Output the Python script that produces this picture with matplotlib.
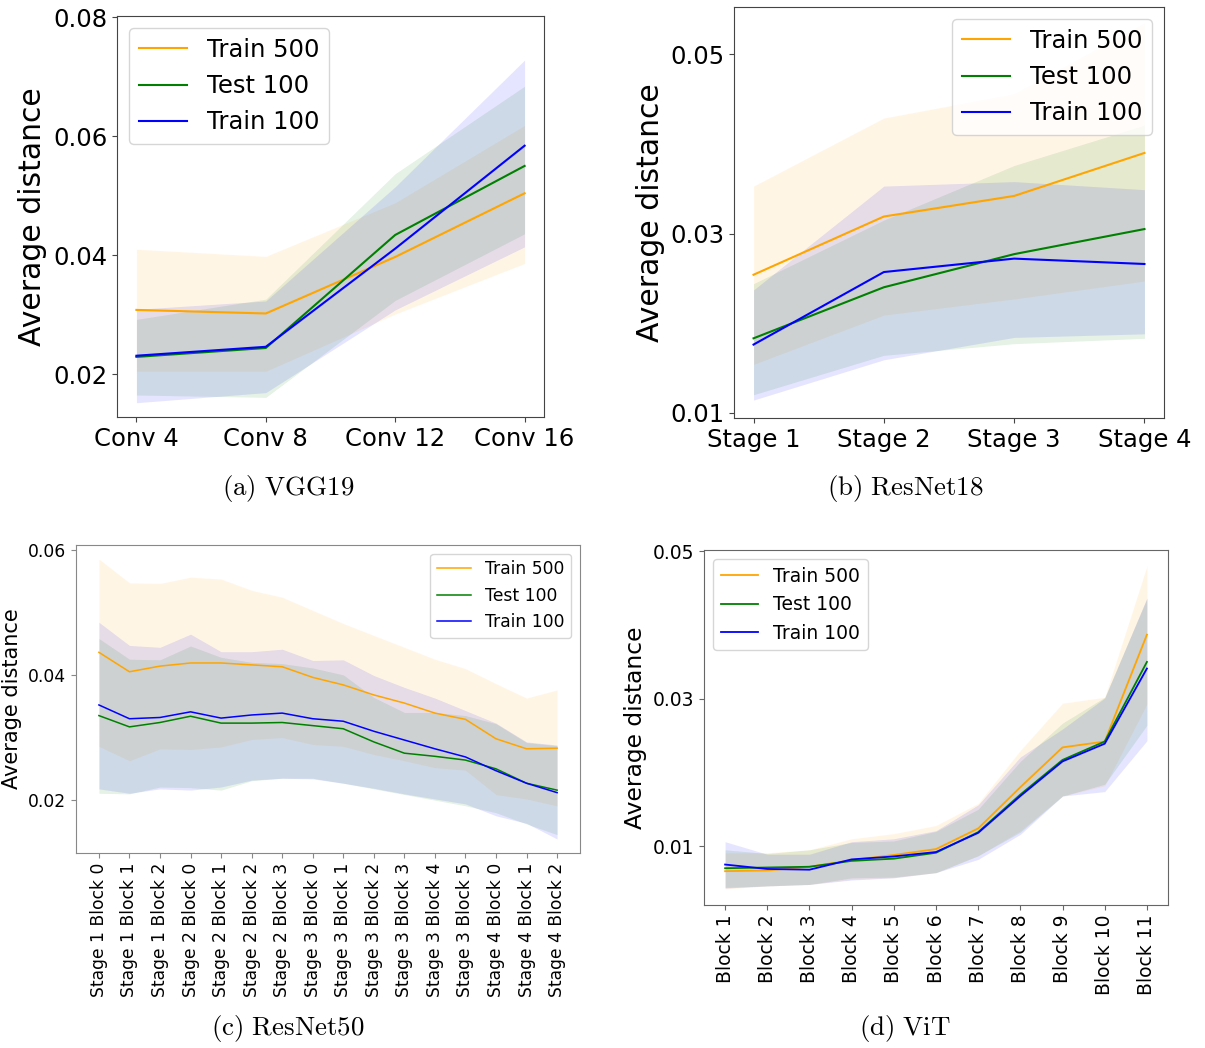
import numpy as np
import matplotlib
matplotlib.use("Agg")
import matplotlib.pyplot as plt

plt.rcParams['mathtext.fontset'] = 'cm'

series_names = ['Train 500', 'Test 100', 'Train 100']
series_colors = ['orange', 'green', 'blue']

# (a) VGG19
vgg_layers = ['Conv 4', 'Conv 8', 'Conv 12', 'Conv 16']
vgg_mean = [[0.0308, 0.0302, 0.0397, 0.0504],
            [0.0229, 0.0244, 0.0434, 0.0550],
            [0.0231, 0.0246, 0.0411, 0.0584]]
vgg_upper = [[0.0410, 0.0398, 0.0488, 0.0618],
             [0.0292, 0.0326, 0.0537, 0.0684],
             [0.0309, 0.0323, 0.0515, 0.0728]]
vgg_lower = [[0.0205, 0.0205, 0.0301, 0.0386],
             [0.0165, 0.0161, 0.0324, 0.0436],
             [0.0152, 0.0169, 0.0308, 0.0414]]

# (b) ResNet18
r18_layers = ['Stage 1', 'Stage 2', 'Stage 3', 'Stage 4']
r18_mean = [[0.0254, 0.0319, 0.0342, 0.0390],
            [0.0183, 0.0240, 0.0277, 0.0305],
            [0.0176, 0.0257, 0.0272, 0.0266]]
r18_upper = [[0.0353, 0.0429, 0.0456, 0.0535],
             [0.0244, 0.0315, 0.0376, 0.0421],
             [0.0237, 0.0353, 0.0358, 0.0349]]
r18_lower = [[0.0154, 0.0209, 0.0227, 0.0247],
             [0.0120, 0.0164, 0.0177, 0.0183],
             [0.0114, 0.0159, 0.0184, 0.0188]]

# (c) ResNet50
r50_layers = ['Stage 1 Block 0', 'Stage 1 Block 1', 'Stage 1 Block 2',
              'Stage 2 Block 0', 'Stage 2 Block 1', 'Stage 2 Block 2', 'Stage 2 Block 3',
              'Stage 3 Block 0', 'Stage 3 Block 1', 'Stage 3 Block 2', 'Stage 3 Block 3',
              'Stage 3 Block 4', 'Stage 3 Block 5',
              'Stage 4 Block 0', 'Stage 4 Block 1', 'Stage 4 Block 2']
r50_mean = [[0.0436, 0.0405, 0.0414, 0.0419, 0.0419, 0.0416, 0.0413, 0.0396,
             0.0384, 0.0368, 0.0355, 0.0339, 0.0329, 0.0298, 0.0282, 0.0283],
            [0.0335, 0.0317, 0.0324, 0.0334, 0.0323, 0.0323, 0.0324, 0.0319,
             0.0314, 0.0293, 0.0275, 0.0270, 0.0264, 0.0250, 0.0227, 0.0216],
            [0.0352, 0.0330, 0.0332, 0.0341, 0.0331, 0.0336, 0.0339, 0.0330,
             0.0326, 0.0310, 0.0296, 0.0282, 0.0269, 0.0247, 0.0227, 0.0212]]
r50_upper = [[0.0585, 0.0547, 0.0546, 0.0556, 0.0553, 0.0535, 0.0524, 0.0503,
              0.0482, 0.0463, 0.0444, 0.0425, 0.0410, 0.0386, 0.0363, 0.0376],
             [0.0458, 0.0425, 0.0424, 0.0446, 0.0428, 0.0420, 0.0418, 0.0411,
              0.0400, 0.0364, 0.0340, 0.0340, 0.0335, 0.0322, 0.0292, 0.0287],
             [0.0484, 0.0447, 0.0444, 0.0465, 0.0437, 0.0437, 0.0441, 0.0423,
              0.0424, 0.0399, 0.0380, 0.0363, 0.0343, 0.0323, 0.0293, 0.0288]]
r50_lower = [[0.0286, 0.0263, 0.0282, 0.0281, 0.0285, 0.0297, 0.0300, 0.0289,
              0.0286, 0.0273, 0.0263, 0.0252, 0.0248, 0.0209, 0.0202, 0.0191],
             [0.0211, 0.0210, 0.0221, 0.0220, 0.0216, 0.0231, 0.0235, 0.0235,
              0.0227, 0.0218, 0.0209, 0.0200, 0.0191, 0.0180, 0.0162, 0.0145],
             [0.0218, 0.0211, 0.0218, 0.0216, 0.0221, 0.0232, 0.0235, 0.0234,
              0.0227, 0.0219, 0.0210, 0.0202, 0.0194, 0.0175, 0.0163, 0.0138]]

# (d) ViT
vit_layers = ['Block 1', 'Block 2', 'Block 3', 'Block 4', 'Block 5', 'Block 6',
              'Block 7', 'Block 8', 'Block 9', 'Block 10', 'Block 11']
vit_mean = [[0.0066, 0.0067, 0.0072, 0.0081, 0.0088, 0.0096, 0.0124, 0.0180, 0.0234, 0.0242, 0.0387],
            [0.0070, 0.0071, 0.0072, 0.0080, 0.0083, 0.0091, 0.0119, 0.0170, 0.0217, 0.0242, 0.0350],
            [0.0075, 0.0069, 0.0068, 0.0082, 0.0086, 0.0092, 0.0118, 0.0168, 0.0215, 0.0239, 0.0341]]
vit_upper = [[0.0091, 0.0091, 0.0095, 0.0110, 0.0117, 0.0128, 0.0158, 0.0230, 0.0294, 0.0302, 0.0480],
             [0.0095, 0.0090, 0.0095, 0.0105, 0.0107, 0.0120, 0.0150, 0.0215, 0.0267, 0.0302, 0.0436],
             [0.0106, 0.0089, 0.0089, 0.0106, 0.0110, 0.0121, 0.0156, 0.0221, 0.0259, 0.0301, 0.0437]]
vit_lower = [[0.0042, 0.0046, 0.0048, 0.0055, 0.0057, 0.0064, 0.0087, 0.0121, 0.0168, 0.0182, 0.0293],
             [0.0044, 0.0046, 0.0048, 0.0057, 0.0058, 0.0064, 0.0087, 0.0119, 0.0168, 0.0184, 0.0264],
             [0.0043, 0.0046, 0.0048, 0.0054, 0.0057, 0.0064, 0.0082, 0.0116, 0.0168, 0.0174, 0.0243]]

W, H = 1205, 1048
fig = plt.figure(figsize=(W / 100, H / 100), dpi=100)


def box(l, t, r, b):
    return [l / W, 1 - b / H, (r - l) / W, (b - t) / H]


def panel(rect, layers, mean, upper, lower, fs, lab_fs, lw, rot, loc, spine, caption, cap_xy):
    ax = fig.add_axes(box(*rect))
    x = np.arange(len(layers))
    for i in range(3):
        ax.plot(x, mean[i], color=series_colors[i], lw=lw, label=series_names[i])
        ax.fill_between(x, lower[i], upper[i], color=series_colors[i], alpha=0.1, lw=0)
    ax.set_xticks(x)
    ax.set_xticklabels(layers, rotation=rot, fontsize=fs)
    ax.tick_params(axis='y', labelsize=fs)
    ax.set_ylabel('Average distance', fontsize=lab_fs)
    for s in ax.spines.values():
        s.set_color(spine)
    ax.tick_params(color=spine)
    ax.legend(loc=loc, fontsize=fs)
    fig.text(cap_xy[0] / W, 1 - cap_xy[1] / H, caption, fontsize=19.4,
             ha='center', va='center')
    return ax


ax = panel((117, 16, 544, 417), vgg_layers, vgg_mean, vgg_upper, vgg_lower,
           17.5, 21.5, 1.5, 0, 'upper left', '#444444',
           r'$\mathrm{(a)\ VGG19}$', (288, 489))
ax.set_ylim(0.0128, 0.0802)
ax.set_yticks([0.02, 0.04, 0.06, 0.08])

ax = panel((734, 7, 1164, 418), r18_layers, r18_mean, r18_upper, r18_lower,
           17.5, 21.5, 1.5, 0, 'upper right', '#444444',
           r'$\mathrm{(b)\ ResNet18}$', (905, 489))
ax.set_ylim(0.0094, 0.0553)
ax.set_yticks([0.01, 0.03, 0.05])

ax = panel((76, 545, 580, 853), r50_layers, r50_mean, r50_upper, r50_lower,
           12.3, 15, 1.1, 90, 'upper right', '#888888',
           r'$\mathrm{(c)\ ResNet50}$', (288, 1028))
ax.set_yticks([0.02, 0.04, 0.06])

ax = panel((704, 550, 1168, 905), vit_layers, vit_mean, vit_upper, vit_lower,
           13.5, 16.8, 1.3, 90, 'upper left', '#666666',
           r'$\mathrm{(d)\ ViT}$', (905, 1028))
ax.set_yticks([0.01, 0.03, 0.05])

fig.savefig('out.png', dpi=100)
